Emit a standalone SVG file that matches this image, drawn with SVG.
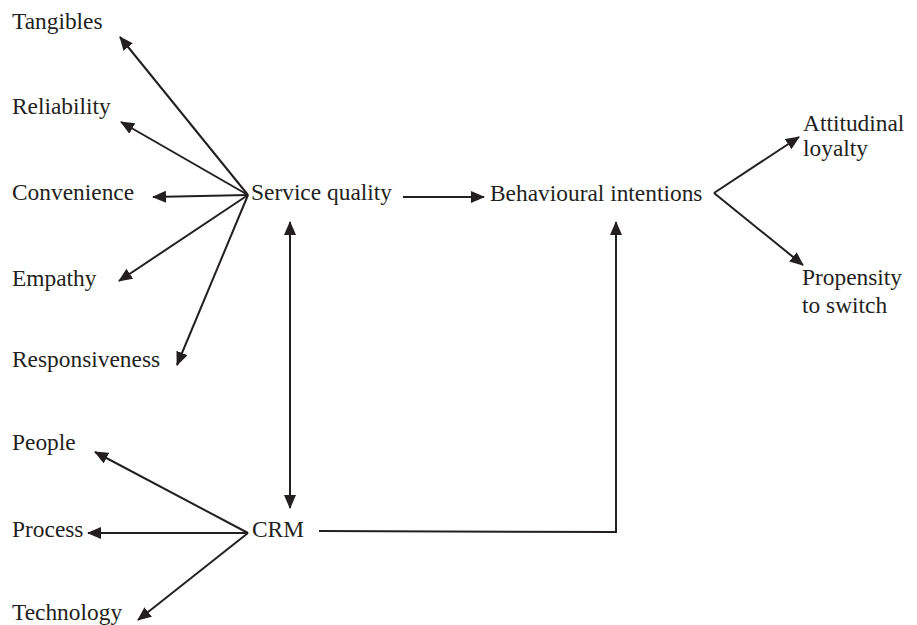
<svg xmlns="http://www.w3.org/2000/svg" width="917" height="625" viewBox="0 0 917 625">
<style>
text{font-family:"Liberation Serif","Times New Roman",serif;font-size:23.4px;fill:#231f20}
.c line,.c path{stroke:#231f20;stroke-width:2;fill:none}
</style>
<defs>
<marker id="ah" markerUnits="userSpaceOnUse" markerWidth="14" markerHeight="12" refX="13" refY="6" orient="auto-start-reverse" viewBox="0 0 14 12">
<path d="M0,0 L14,6 L0,12 z" fill="#231f20"/>
</marker>
</defs>
<rect width="917" height="625" fill="#fff"/>
<g class="c" id="connectors">
<line x1="248" y1="195" x2="120" y2="37" marker-end="url(#ah)"/>
<line x1="248" y1="195" x2="121" y2="122" marker-end="url(#ah)"/>
<line x1="248" y1="195" x2="153" y2="197" marker-end="url(#ah)"/>
<line x1="248" y1="195" x2="119" y2="281" marker-end="url(#ah)"/>
<line x1="248" y1="195" x2="177" y2="365" marker-end="url(#ah)"/>
<line x1="403" y1="197" x2="484" y2="197" marker-end="url(#ah)"/>
<line x1="290" y1="222" x2="290" y2="508" marker-start="url(#ah)" marker-end="url(#ah)"/>
<line x1="248" y1="533" x2="95" y2="452" marker-end="url(#ah)"/>
<line x1="248" y1="533" x2="88" y2="533" marker-end="url(#ah)"/>
<line x1="248" y1="533" x2="138" y2="620" marker-end="url(#ah)"/>
<path d="M319,531 L616,532 L616,222" marker-end="url(#ah)"/>
<line x1="714" y1="193" x2="799" y2="137" marker-end="url(#ah)"/>
<line x1="714" y1="193" x2="803" y2="265" marker-end="url(#ah)"/>
</g>
<g id="tangibles"><text x="12" y="29">Tangibles</text></g>
<g id="reliability"><text x="12" y="114">Reliability</text></g>
<g id="convenience"><text x="12" y="200">Convenience</text></g>
<g id="empathy"><text x="12" y="286">Empathy</text></g>
<g id="responsiveness"><text x="12" y="367">Responsiveness</text></g>
<g id="service-quality"><text x="251" y="200">Service quality</text></g>
<g id="behavioural-intentions"><text x="490" y="201">Behavioural intentions</text></g>
<g id="attitudinal-loyalty"><text x="803" y="131">Attitudinal</text><text x="803" y="156">loyalty</text></g>
<g id="propensity-to-switch"><text x="802" y="285">Propensity</text><text x="802" y="313">to switch</text></g>
<g id="people"><text x="12" y="450">People</text></g>
<g id="process"><text x="12" y="537">Process</text></g>
<g id="technology"><text x="12" y="620">Technology</text></g>
<g id="crm"><text x="252" y="537">CRM</text></g>
</svg>
